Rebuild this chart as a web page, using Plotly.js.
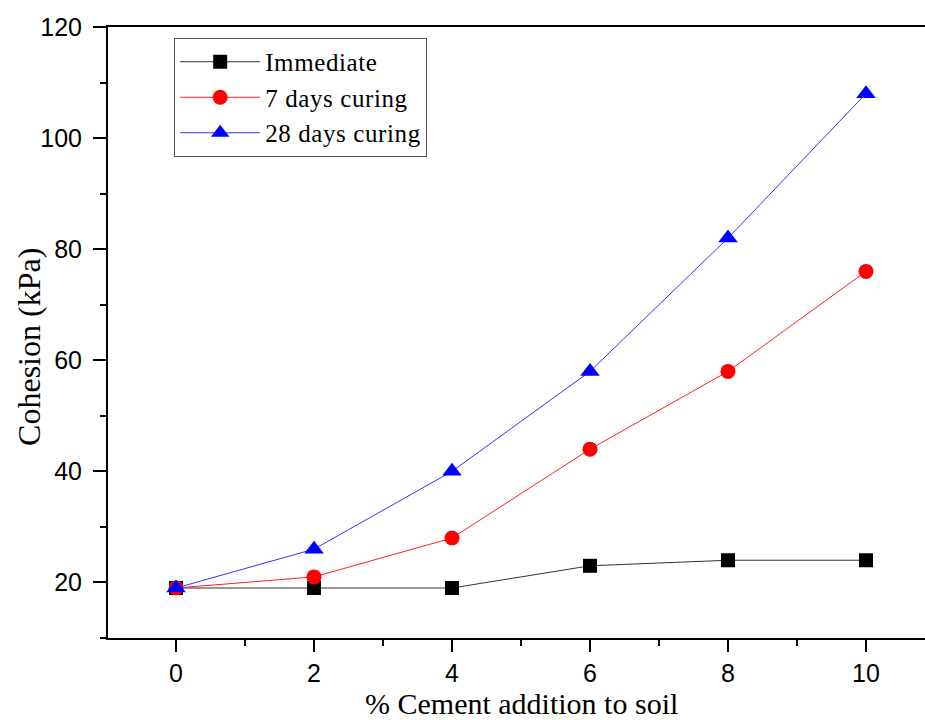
<!DOCTYPE html>
<html>
<head>
<meta charset="utf-8">
<script src="https://cdn.plot.ly/plotly-3.0.1.min.js"></script>
<style>
  html, body { margin: 0; padding: 0; background: #fff; }
  #chart { width: 925px; height: 720px; }
  /* a touch of tracking on the legend labels */
  .legendtext { letter-spacing: 0.6px; }
</style>
</head>
<body>
<div id="chart"></div>
<script>
// Cement content (%) added to the soil
const cementPct = [0, 2, 4, 6, 8, 10];

// Cohesion (kPa) for each curing condition
const cohesionImmediate = [19, 19, 19, 23, 24, 24];
const cohesion7Days = [19, 21, 28, 44, 58, 76];
const cohesion28Days = [19, 26, 40, 58, 82, 108];

const seriesNames = ['Immediate', '7 days curing', '28 days curing'];

// Axis tick values
const xTicks = [0, 2, 4, 6, 8, 10];
const yTicks = [20, 40, 60, 80, 100, 120];

const traces = [
  {
    x: cementPct, y: cohesionImmediate, name: seriesNames[0],
    mode: 'lines+markers', type: 'scatter',
    line: { color: '#333333', width: 1 },
    marker: { symbol: 'square', size: 14, color: '#000000' }
  },
  {
    x: cementPct, y: cohesion7Days, name: seriesNames[1],
    mode: 'lines+markers', type: 'scatter',
    line: { color: '#ff2020', width: 1 },
    marker: { symbol: 'circle', size: 15, color: '#ff0000' }
  },
  {
    x: cementPct, y: cohesion28Days, name: seriesNames[2],
    mode: 'lines+markers', type: 'scatter',
    line: { color: '#3333ff', width: 1 },
    marker: { symbol: 'triangle-up', size: 17, color: '#0000ff' }
  }
];

const tickFont = { family: 'Liberation Sans, Arial, sans-serif', size: 25, color: '#000' };
const serif = 'Liberation Serif, Times New Roman, serif';

const layout = {
  width: 925,
  height: 720,
  margin: { l: 108, r: 0, t: 27, b: 82 },
  paper_bgcolor: '#ffffff',
  plot_bgcolor: '#ffffff',
  showlegend: true,
  legend: {
    x: 0.081, y: 0.982, xanchor: 'left', yanchor: 'top',
    bgcolor: '#ffffff',
    bordercolor: '#555555', borderwidth: 1,
    font: { family: serif, size: 25, color: '#000' },
    itemwidth: 80,
    tracegroupgap: 0
  },
  xaxis: {
    range: [-0.986, 10.855],
    tickvals: xTicks,
    ticktext: xTicks.map(String),
    ticks: 'outside', ticklen: 12, tickwidth: 2, tickcolor: '#000',
    ticklabelstandoff: 0,
    minor: { dtick: 1, tick0: 0, ticks: 'outside', ticklen: 6, tickwidth: 2, tickcolor: '#000', showgrid: false },
    showline: true, linecolor: '#000', linewidth: 2, mirror: true,
    showgrid: false, zeroline: false,
    tickfont: tickFont
  },
  yaxis: {
    range: [10, 120],
    tickvals: yTicks,
    ticktext: yTicks.map(String),
    ticks: 'outside', ticklen: 13, tickwidth: 2, tickcolor: '#000',
    ticklabelstandoff: 6,
    minor: { dtick: 10, tick0: 0, ticks: 'outside', ticklen: 6, tickwidth: 2, tickcolor: '#000', showgrid: false },
    showline: true, linecolor: '#000', linewidth: 2,
    showgrid: false, zeroline: false,
    tickfont: tickFont
  },
  annotations: [
    {
      text: '% Cement addition to soil',
      xref: 'paper', yref: 'paper',
      x: 0.506, y: -0.108, xanchor: 'center', yanchor: 'middle',
      showarrow: false,
      font: { family: serif, size: 30, color: '#000' }
    },
    {
      text: 'Cohesion (kPa)',
      xref: 'paper', yref: 'paper',
      x: -0.097, y: 0.476, xanchor: 'center', yanchor: 'middle',
      textangle: -90,
      showarrow: false,
      font: { family: serif, size: 32, color: '#000' }
    }
  ]
};

Plotly.newPlot('chart', traces, layout, { displayModeBar: false, staticPlot: true });
</script>
</body>
</html>
